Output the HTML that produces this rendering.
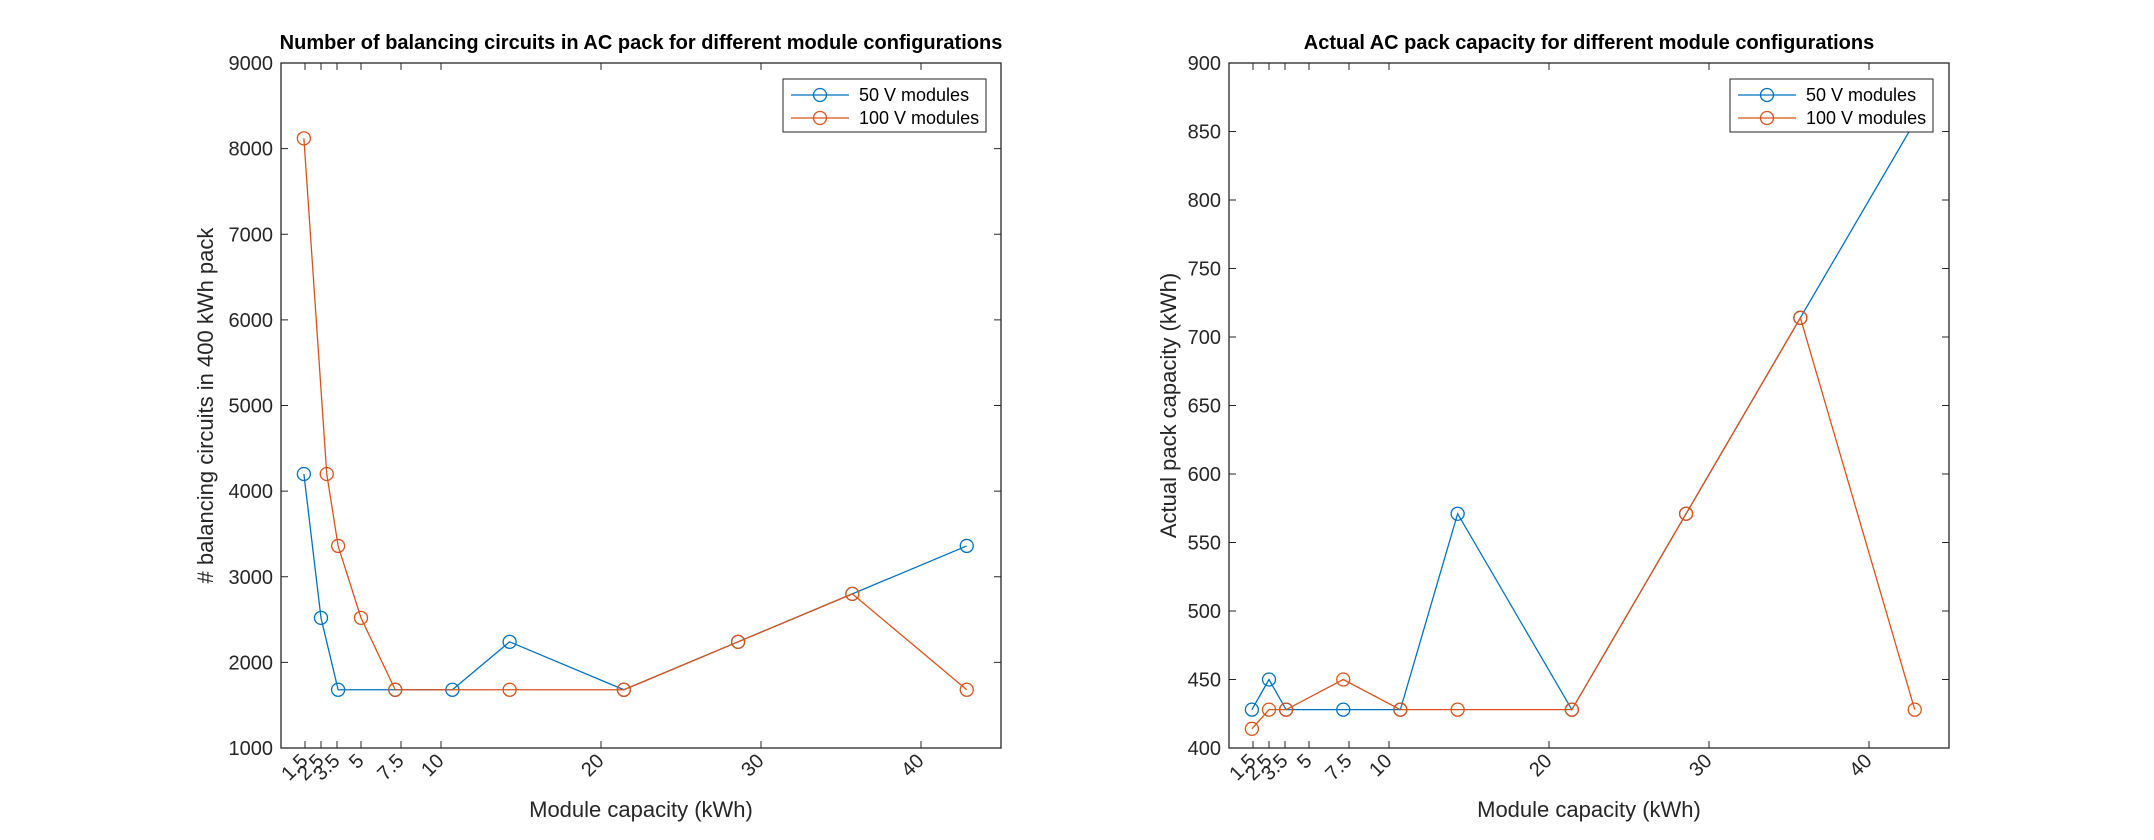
<!DOCTYPE html>
<html><head><meta charset="utf-8">
<style>
html,body{margin:0;padding:0;background:#fff;}
svg{display:block;font-family:"Liberation Sans",Arial,sans-serif;}
</style></head>
<body>
<svg id="fig" width="2154" height="840" viewBox="0 0 2154 840" xmlns="http://www.w3.org/2000/svg">
<rect width="2154" height="840" fill="#fff"/>
<g id="chart1"></g>
<g id="chart2"></g>
</svg>
<script>
const xTicks = [1.5, 2.5, 3.5, 5, 7.5, 10, 20, 30, 40];
const xTickLabels = ["1.5", "2.5", "3.5", "5", "7.5", "10", "20", "30", "40"];

const c1Blue_x = [1.43, 2.5, 3.57, 7.14, 10.71, 14.29, 21.43, 28.57, 35.71, 42.86];
const c1Blue_y = [4200, 2520, 1680, 1680, 1680, 2240, 1680, 2240, 2800, 3360];
const c1Red_x = [1.43, 2.86, 3.57, 5, 7.14, 14.29, 21.43, 28.57, 35.71, 42.86];
const c1Red_y = [8120, 4200, 3360, 2520, 1680, 1680, 1680, 2240, 2800, 1680];
const c1YTicks = [1000, 2000, 3000, 4000, 5000, 6000, 7000, 8000, 9000];

const c2Blue_x = [1.43, 2.5, 3.57, 7.14, 10.71, 14.29, 21.43, 28.57, 35.71, 42.86];
const c2Blue_y = [428, 450, 428, 428, 428, 571, 428, 571, 714, 857];
const c2Red_x = [1.43, 2.5, 3.57, 7.14, 10.71, 14.29, 21.43, 28.57, 35.71, 42.86];
const c2Red_y = [414, 428, 428, 450, 428, 428, 428, 571, 714, 428];
const c2YTicks = [400, 450, 500, 550, 600, 650, 700, 750, 800, 850, 900];

const NS = "http://www.w3.org/2000/svg";
function mk(tag, attrs, parent) {
  const e = document.createElementNS(NS, tag);
  for (const k in attrs) e.setAttribute(k, attrs[k]);
  parent.appendChild(e);
  return e;
}

function drawChart(g, cfg) {
  const L = cfg.left, T = 63, W = 720, H = 685;
  const sx = v => L + (v - 0) / 45 * W;
  const sy = v => T + H - (v - cfg.ymin) / (cfg.ymax - cfg.ymin) * H;
  const clipId = cfg.id + "clip";
  const defs = mk("defs", {}, g);
  const cp = mk("clipPath", {id: clipId}, defs);
  mk("rect", {x: L, y: T, width: W, height: H}, cp);

  const title = mk("text", {x: L + W / 2, y: 49, "text-anchor": "middle", "font-size": "20", "font-weight": "bold", fill: "#000"}, g);
  title.textContent = cfg.title;
  
  

  const series = [
    {xs: cfg.bx, ys: cfg.by, color: "#0072BD", name: "series-50v"},
    {xs: cfg.rx, ys: cfg.ry, color: "#D95319", name: "series-100v"}
  ];
  series.forEach(s => {
    const sg = mk("g", {"clip-path": "url(#" + clipId + ")"}, g);
    
    
    const pts = s.xs.map((x, i) => sx(x) + "," + sy(s.ys[i])).join(" ");
    const pl = mk("polyline", {points: pts, fill: "none", stroke: s.color, "stroke-width": "1.3"}, sg);
    
    
    s.xs.forEach((x, i) => {
      const c = mk("circle", {cx: sx(x), cy: sy(s.ys[i]), r: 6.5, fill: "none", stroke: s.color, "stroke-width": "1.3"}, sg);
      
      
    });
  });

  const box = mk("rect", {x: L, y: T, width: W, height: H, fill: "none", stroke: "#262626", "stroke-width": "1.3"}, g);
  
  

  cfg.yt.forEach(v => {
    const y = sy(v);
    mk("line", {x1: L, x2: L + 7, y1: y, y2: y, stroke: "#262626", "stroke-width": "1"}, g);
    mk("line", {x1: L + W, x2: L + W - 7, y1: y, y2: y, stroke: "#262626", "stroke-width": "1"}, g);
    const t = mk("text", {x: L - 8, y: y + 7, "text-anchor": "end", "font-size": "20", fill: "#262626"}, g);
    t.textContent = String(v);
    
    
  });
  xTicks.forEach((v, i) => {
    const x = sx(v);
    mk("line", {x1: x, x2: x, y1: T + H, y2: T + H - 7, stroke: "#262626", "stroke-width": "1"}, g);
    mk("line", {x1: x, x2: x, y1: T, y2: T + 7, stroke: "#262626", "stroke-width": "1"}, g);
    const t = mk("text", {x: x + 4, y: T + H + 14, "text-anchor": "end", "font-size": "20", fill: "#262626",
      transform: "rotate(-45 " + (x + 4) + " " + (T + H + 14) + ")"}, g);
    t.textContent = xTickLabels[i];
    
    
  });
  const xl = mk("text", {x: L + W / 2, y: 817, "text-anchor": "middle", "font-size": "22", fill: "#262626"}, g);
  xl.textContent = "Module capacity (kWh)";
  
  
  const yx = cfg.ylabX, yy = T + H / 2;
  const yl = mk("text", {x: yx, y: yy, "text-anchor": "middle", "font-size": "22", fill: "#262626",
    transform: "rotate(-90 " + yx + " " + yy + ")"}, g);
  yl.textContent = cfg.ylabel;
  
  

  const lg = mk("g", {}, g);
  
  
  const lx = cfg.legX, ly = 79, lw = 203, lh = 53;
  mk("rect", {x: lx, y: ly, width: lw, height: lh, fill: "#fff", stroke: "#262626", "stroke-width": "1"}, lg);
  [["50 V modules", "#0072BD", ly + 16], ["100 V modules", "#D95319", ly + 39]].forEach(e => {
    const eg = mk("g", {}, lg);
    
    
    mk("line", {x1: lx + 8, x2: lx + 66, y1: e[2], y2: e[2], stroke: e[1], "stroke-width": "1.3"}, eg);
    mk("circle", {cx: lx + 37, cy: e[2], r: 6.5, fill: "none", stroke: e[1], "stroke-width": "1.3"}, eg);
    const t = mk("text", {x: lx + 76, y: e[2] + 6, "font-size": "18", fill: "#000"}, eg);
    t.textContent = e[0];
  });
}

drawChart(document.getElementById("chart1"), {
  id: "c1", left: 281, ymin: 1000, ymax: 9000, yt: c1YTicks,
  bx: c1Blue_x, by: c1Blue_y, rx: c1Red_x, ry: c1Red_y,
  title: "Number of balancing circuits in AC pack for different module configurations",
  ylabel: "# balancing circuits in 400 kWh pack", ylabX: 213, legX: 783
});
drawChart(document.getElementById("chart2"), {
  id: "c2", left: 1229, ymin: 400, ymax: 900, yt: c2YTicks,
  bx: c2Blue_x, by: c2Blue_y, rx: c2Red_x, ry: c2Red_y,
  title: "Actual AC pack capacity for different module configurations",
  ylabel: "Actual pack capacity (kWh)", ylabX: 1176, legX: 1730
});
</script>
</body></html>
